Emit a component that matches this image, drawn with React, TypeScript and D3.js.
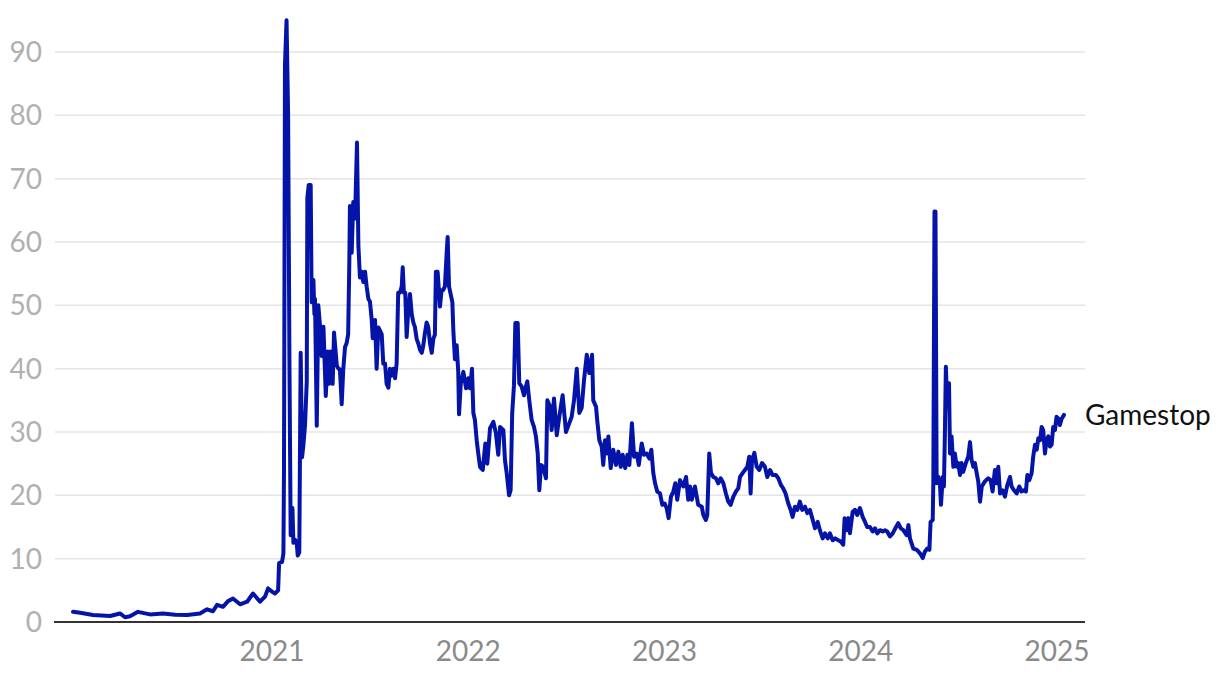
import React from "react";
import * as d3 from "d3";

// Gamestop closing price (USD, split-adjusted), date given as decimal year
const series2020: [number, number][] = [
  [2019.986, 1.63], [2020.022, 1.45], [2020.088, 1.1], [2020.175, 0.95], [2020.225, 1.35],
  [2020.251, 0.75], [2020.276, 0.9], [2020.317, 1.6], [2020.378, 1.2], [2020.445, 1.35],
  [2020.506, 1.15], [2020.567, 1.1], [2020.633, 1.35], [2020.669, 2.0], [2020.699, 1.7],
  [2020.72, 2.7], [2020.75, 2.4], [2020.776, 3.3], [2020.801, 3.7], [2020.837, 2.8],
  [2020.873, 3.2], [2020.903, 4.5], [2020.939, 3.2], [2020.964, 4.0], [2020.98, 5.3],
];

const series2021: [number, number][] = [
  [2021.0, 4.8], [2021.015, 4.5], [2021.031, 5.0], [2021.036, 9.3], [2021.051, 9.5],
  [2021.058, 10.8], [2021.061, 24], [2021.066, 88], [2021.074, 95], [2021.082, 80],
  [2021.089, 40], [2021.095, 13.7], [2021.104, 18], [2021.109, 12.5], [2021.117, 13],
  [2021.126, 12.5], [2021.131, 10.5], [2021.139, 11], [2021.146, 42.5], [2021.153, 26],
  [2021.16, 28], [2021.168, 31], [2021.177, 38], [2021.18, 67], [2021.187, 69],
  [2021.197, 69], [2021.202, 50.5], [2021.211, 54], [2021.216, 48.6], [2021.219, 51],
  [2021.228, 31], [2021.236, 50], [2021.245, 46.6], [2021.253, 42], [2021.262, 46.6],
  [2021.274, 35.7], [2021.284, 42.7], [2021.29, 37.6], [2021.299, 42.7], [2021.309, 37.6],
  [2021.316, 45.7], [2021.33, 40.5], [2021.338, 40], [2021.346, 39.9], [2021.355, 34.4],
  [2021.363, 39.9], [2021.372, 43.4], [2021.38, 44], [2021.388, 45.4], [2021.394, 57],
  [2021.397, 65.7], [2021.406, 58.3], [2021.414, 66.3], [2021.423, 63.7], [2021.433, 75.7],
  [2021.44, 59.5], [2021.448, 54.4], [2021.457, 55.3], [2021.465, 53.7], [2021.474, 55.3],
  [2021.482, 53], [2021.491, 51], [2021.499, 50.6], [2021.508, 47.7], [2021.513, 44.8],
  [2021.525, 47.7], [2021.533, 40], [2021.542, 46.5], [2021.55, 46], [2021.559, 45.4],
  [2021.567, 40.8], [2021.576, 40.8], [2021.584, 37.6], [2021.593, 37], [2021.601, 40],
  [2021.61, 38.9], [2021.618, 40], [2021.627, 38.5], [2021.635, 40.8], [2021.643, 52],
  [2021.652, 52], [2021.661, 53], [2021.666, 56], [2021.672, 52], [2021.679, 52],
  [2021.686, 45], [2021.694, 49], [2021.703, 51.8], [2021.712, 48.6], [2021.72, 47.3],
  [2021.728, 46.6], [2021.737, 44.7], [2021.745, 44], [2021.754, 43], [2021.763, 42.5],
  [2021.771, 43.7], [2021.779, 45.6], [2021.788, 47.3], [2021.796, 46.6], [2021.805, 44],
  [2021.814, 42.5], [2021.822, 44.7], [2021.83, 45.4], [2021.835, 55.3], [2021.844, 55.3],
  [2021.856, 49.8], [2021.864, 52.4], [2021.872, 52.4], [2021.881, 53], [2021.89, 58.3],
  [2021.895, 60.8], [2021.902, 53], [2021.91, 51.8], [2021.919, 50.5], [2021.924, 46],
  [2021.932, 41.5], [2021.941, 43.7], [2021.949, 39.5], [2021.953, 32.8], [2021.962, 37.7],
  [2021.975, 39.5], [2021.989, 36.9],
];

const series2022: [number, number][] = [
  [2022.0, 38.5], [2022.009, 36.9], [2022.019, 40], [2022.026, 33], [2022.034, 31.9],
  [2022.043, 28.7], [2022.051, 26.6], [2022.06, 24.5], [2022.074, 24], [2022.087, 28.2],
  [2022.097, 25], [2022.111, 30.6], [2022.128, 31.6], [2022.141, 29.8], [2022.153, 26.4],
  [2022.162, 30.8], [2022.179, 30.3], [2022.187, 25.6], [2022.196, 23.5], [2022.208, 20],
  [2022.216, 20.8], [2022.224, 33], [2022.233, 37.4], [2022.24, 47.2], [2022.252, 47.2],
  [2022.26, 37.7], [2022.272, 37.2], [2022.284, 35.8], [2022.294, 37.2], [2022.301, 38],
  [2022.311, 35], [2022.323, 31.9], [2022.335, 30.8], [2022.345, 29.3], [2022.354, 26.6],
  [2022.362, 20.8], [2022.371, 24.8], [2022.382, 24.5], [2022.396, 22.7], [2022.403, 35],
  [2022.417, 34], [2022.425, 30.3], [2022.437, 35.3], [2022.451, 29.5], [2022.464, 32.4],
  [2022.481, 35.8], [2022.498, 30], [2022.515, 31.4], [2022.527, 32.4], [2022.539, 35],
  [2022.553, 40], [2022.566, 33], [2022.578, 33.8], [2022.59, 38.2], [2022.604, 42.2],
  [2022.617, 39.3], [2022.631, 42.2], [2022.637, 35], [2022.651, 34], [2022.658, 31.6],
  [2022.668, 28.7], [2022.68, 27.7], [2022.688, 24.8], [2022.697, 28.7], [2022.706, 26.6],
  [2022.714, 29.3], [2022.726, 24.3], [2022.739, 27.2], [2022.753, 24.8], [2022.765, 26.9],
  [2022.777, 24.5], [2022.787, 26.4], [2022.8, 24.3], [2022.811, 26.4], [2022.821, 24.8],
  [2022.834, 31.4], [2022.845, 26.1], [2022.858, 26.6], [2022.869, 24.8], [2022.884, 28.2],
  [2022.896, 26.4], [2022.909, 26.6], [2022.923, 25.8], [2022.933, 27.2], [2022.943, 23.5],
  [2022.952, 21.9], [2022.963, 20.6], [2022.977, 20.3], [2022.989, 18.5],
];

const series2023: [number, number][] = [
  [2023.001, 18.7], [2023.011, 18], [2023.021, 16.4], [2023.033, 19.8], [2023.045, 20.6],
  [2023.055, 21.9], [2023.065, 19.3], [2023.079, 22.4], [2023.096, 21.4], [2023.11, 22.9],
  [2023.121, 19.3], [2023.13, 21.4], [2023.139, 19.3], [2023.155, 21.4], [2023.172, 18.5],
  [2023.19, 18.2], [2023.198, 16.9], [2023.211, 16.1], [2023.218, 16.9], [2023.228, 26.6],
  [2023.237, 23.5], [2023.249, 22.9], [2023.262, 22.7], [2023.274, 21.9], [2023.286, 22.7],
  [2023.3, 21.9], [2023.313, 20.3], [2023.325, 19], [2023.337, 18.5], [2023.351, 19.8],
  [2023.364, 20.6], [2023.376, 21.1], [2023.385, 22.9], [2023.398, 23.5], [2023.41, 24],
  [2023.422, 24.5], [2023.432, 26.1], [2023.439, 20.3], [2023.446, 25.6], [2023.458, 26.7],
  [2023.47, 24.5], [2023.483, 24], [2023.497, 25.1], [2023.512, 24.5], [2023.524, 22.9],
  [2023.538, 24], [2023.551, 23.2], [2023.568, 23.2], [2023.58, 22.7], [2023.594, 21.6],
  [2023.605, 21.1], [2023.617, 20.3], [2023.631, 18.7], [2023.643, 17.7], [2023.653, 16.6],
  [2023.665, 18.2], [2023.677, 17.7], [2023.69, 19], [2023.702, 17.7], [2023.716, 18.2],
  [2023.728, 17.2], [2023.741, 17.7], [2023.753, 16.4], [2023.767, 14.8], [2023.781, 15.8],
  [2023.792, 14.5], [2023.806, 13.2], [2023.818, 14], [2023.832, 13.2], [2023.843, 14],
  [2023.857, 12.9], [2023.87, 13.2], [2023.886, 12.9], [2023.898, 12.7], [2023.911, 12.2],
  [2023.918, 16.4], [2023.928, 14.5], [2023.937, 16.4], [2023.945, 14], [2023.959, 17.4],
  [2023.971, 17.7], [2023.982, 16.9], [2023.996, 18],
];

const series2024: [number, number][] = [
  [2024.01, 16.6], [2024.022, 15.8], [2024.033, 15], [2024.047, 15], [2024.061, 14.3],
  [2024.073, 14.8], [2024.084, 14], [2024.098, 14.5], [2024.112, 14.3], [2024.124, 14.5],
  [2024.135, 14.3], [2024.149, 13.5], [2024.163, 14], [2024.18, 15], [2024.191, 15.6],
  [2024.204, 14.8], [2024.217, 14.5], [2024.234, 13.7], [2024.243, 15.3], [2024.251, 13.2],
  [2024.268, 11.6], [2024.286, 11.4], [2024.303, 10.8], [2024.316, 10.1], [2024.327, 11.1],
  [2024.339, 11.6], [2024.35, 11.4], [2024.356, 15.8], [2024.367, 16.1], [2024.37, 21.9],
  [2024.376, 64.8], [2024.381, 64.8], [2024.387, 21.9], [2024.396, 22.9], [2024.404, 21.6],
  [2024.409, 18.5], [2024.418, 22.9], [2024.424, 21.4], [2024.429, 29.8], [2024.434, 40.3],
  [2024.441, 34], [2024.45, 37.7], [2024.455, 26.6], [2024.463, 29.3], [2024.472, 24.5],
  [2024.48, 26.6], [2024.489, 24.5], [2024.497, 25.1], [2024.506, 23.2], [2024.514, 25.1],
  [2024.522, 23.7], [2024.536, 25.1], [2024.548, 26.1], [2024.557, 28.4], [2024.565, 25.6],
  [2024.574, 24.5], [2024.582, 25.1], [2024.591, 23.5], [2024.599, 22.2], [2024.608, 19],
  [2024.617, 21.4], [2024.633, 22.2], [2024.65, 22.7], [2024.662, 22.4], [2024.672, 20.6],
  [2024.684, 24], [2024.693, 21.9], [2024.701, 24.5], [2024.71, 20.3], [2024.723, 20.8],
  [2024.735, 19.8], [2024.747, 21.6], [2024.761, 22.9], [2024.769, 21.4], [2024.781, 20.8],
  [2024.795, 20.3], [2024.808, 21.4], [2024.82, 20.6], [2024.832, 20.8], [2024.842, 20.6],
  [2024.849, 23.2], [2024.859, 22.4], [2024.871, 23.5], [2024.879, 26.1], [2024.888, 28],
  [2024.897, 27.2], [2024.905, 29], [2024.914, 28.7], [2024.922, 30.8], [2024.93, 30.3],
  [2024.939, 26.6], [2024.947, 28.7], [2024.956, 29.3], [2024.964, 27.7], [2024.973, 28],
  [2024.981, 30.8], [2024.99, 30.3], [2024.998, 32.4],
];

const series2025: [number, number][] = [
  [2025.007, 32.1], [2025.015, 31.1], [2025.024, 32.1], [2025.036, 32.7],
];

const yTicks = [0, 10, 20, 30, 40, 50, 60, 70, 80, 90];
const xTicks = [2021, 2022, 2023, 2024, 2025];
const seriesName = "Gamestop";

const W = 1220;
const H = 678;

export default function App() {
  const data = [...series2020, ...series2021, ...series2022, ...series2023, ...series2024, ...series2025];

  const x = d3.scaleLinear().domain([2019.894, 2025.143]).range([55, 1085]);
  const y = d3.scaleLinear().domain([0, 90]).range([622, 52]);

  const line = d3
    .line<[number, number]>()
    .x((d) => x(d[0]))
    .y((d) => y(d[1]))
    .curve(d3.curveLinear);

  const last = data[data.length - 1];
  const font = "Lato, 'Noto Sans', sans-serif";

  return (
    <svg
      width={W}
      height={H}
      style={{ position: "absolute", left: 0, top: 0, display: "block", background: "#fff" }}
    >
      {yTicks.filter((t) => t !== 0).map((t) => (
        <line key={"g" + t} x1={55} x2={1085} y1={y(t)} y2={y(t)} stroke="#e4e4e4" strokeWidth={1.5} />
      ))}
      {yTicks.map((t) => (
        <text
          key={"yl" + t}
          x={42}
          y={y(t)}
          dy="0.36em"
          textAnchor="end"
          fontFamily={font}
          fontSize={28}
          fill="#b0b0b0"
        >
          {t}
        </text>
      ))}
      {xTicks.map((t) => (
        <text
          key={"xl" + t}
          x={x(t)}
          y={661}
          textAnchor="middle"
          fontFamily={font}
          fontSize={28}
          fill="#8a8a8a"
        >
          {t}
        </text>
      ))}
      <path
        d={line(data) || ""}
        fill="none"
        stroke="#0514a8"
        strokeWidth={4}
        strokeLinejoin="round"
        strokeLinecap="round"
      />
      <line x1={54} x2={1085} y1={y(0)} y2={y(0)} stroke="#333" strokeWidth={2} />
      <text x={1085} y={y(last[1])} dy="0.36em" fontFamily={font} fontSize={28} fill="#111">
        {seriesName}
      </text>
    </svg>
  );
}
